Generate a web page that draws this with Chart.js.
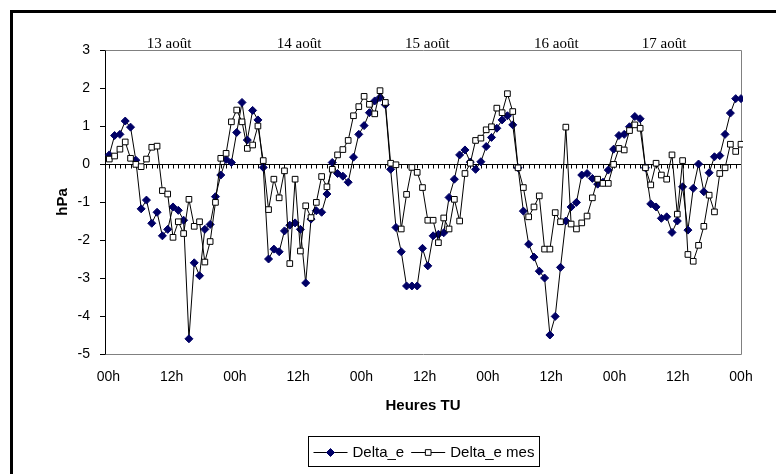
<!DOCTYPE html>
<html><head><meta charset="utf-8">
<script src="https://cdn.jsdelivr.net/npm/chart.js@4.4.1/dist/chart.umd.min.js"></script>
<style>html,body{margin:0;padding:0;background:#fff;overflow:hidden}canvas{display:block}</style>
</head><body>
<canvas id="c" width="776" height="474"></canvas>
<script>
// hourly observation index, 13 août 00h TU -> 18 août 00h TU
const hours = Array.from({length: 121}, (_, i) => i);

const deltaE = [
  0.24, 0.75, 0.78, 1.13, 0.97, 0.10, -1.18, -0.95, -1.56, -1.27,
  -1.89, -1.72, -1.13, -1.22, -1.48, -4.60, -2.60, -2.94, -1.72, -1.59,
  -0.86, -0.29, 0.12, 0.04, 0.83, 1.62, 0.63, 1.41, 1.16, -0.09,
  -2.50, -2.24, -2.31, -1.76, -1.61, -1.55, -1.72, -3.13, -1.45, -1.23,
  -1.27, -0.79, 0.04, -0.25, -0.32, -0.48, 0.18, 0.78, 1.01, 1.35,
  1.66, 1.75, 1.56, -0.14, -1.67, -2.31, -3.21, -3.21, -3.21, -2.22,
  -2.68, -1.89, -1.85, -1.81, -0.88, -0.40, 0.24, 0.37, 0.05, -0.14,
  0.06, 0.46, 0.70, 0.94, 1.16, 1.27, 1.03, -0.10, -1.24, -2.11,
  -2.45, -2.82, -3.00, -4.50, -4.01, -2.72, -1.50, -1.13, -1.01, -0.29,
  -0.25, -0.38, -0.53, -0.48, -0.16, 0.39, 0.75, 0.78, 0.98, 1.25,
  1.19, -0.10, -1.05, -1.13, -1.43, -1.39, -1.80, -1.50, -0.60, -1.74,
  -0.64, 0.00, -0.73, -0.23, 0.19, 0.22, 0.78, 1.34, 1.72, 1.72,
  0.72
];

const deltaEmes = [
  0.13, 0.21, 0.39, 0.58, 0.15, -0.01, -0.07, 0.13, 0.44, 0.47,
  -0.70, -0.79, -1.93, -1.52, -1.83, -0.93, -1.64, -1.52, -2.58, -2.04,
  -1.01, 0.15, 0.28, 1.11, 1.42, 1.11, 0.41, 0.50, 1.00, 0.09,
  -1.20, -0.40, -0.89, -0.18, -2.62, -0.40, -2.29, -1.10, -1.41, -1.01,
  -0.33, -0.60, -0.14, 0.24, 0.38, 0.62, 1.27, 1.51, 1.78, 1.57,
  1.32, 1.93, 1.62, 0.02, -0.02, -1.71, -0.80, -0.09, -0.22, -0.62,
  -1.48, -1.48, -2.07, -1.42, -1.71, -0.93, -1.50, -0.25, 0.02, 0.62,
  0.68, 0.90, 0.98, 1.47, 1.35, 1.85, 1.38, -0.10, -0.62, -1.39,
  -1.13, -0.84, -2.24, -2.24, -1.28, -1.52, 0.97, -1.58, -1.71, -1.55,
  -1.37, -0.89, -0.40, -0.51, -0.51, -0.01, 0.41, 0.37, 0.88, 1.03,
  0.94, -0.10, -0.55, 0.02, -0.29, -0.40, 0.24, -1.32, 0.09, -2.38,
  -2.56, -2.14, -1.64, -0.82, -1.26, -0.25, -0.10, 0.52, 0.33, 0.52,
  0.25
];

const seriesNames = ['Delta_e', 'Delta_e mes'];
const xTickHours = [0, 12, 24, 36, 48, 60, 72, 84, 96, 108, 120];
const xTickLabels = ['00h', '12h', '00h', '12h', '00h', '12h', '00h', '12h', '00h', '12h', '00h'];
const yTickLabels = ['-5', '-4', '-3', '-2', '-1', '0', '1', '2', '3'];
const dayLabels = ['13 août', '14 août', '15 août', '16 août', '17 août'];
const dayLabelHours = [11.25, 35.75, 59.9, 84.2, 104.5];

const SANS = "'Liberation Sans', Arial, sans-serif";
const SERIF = "'Liberation Serif', 'Times New Roman', serif";
Chart.defaults.font.family = SANS;
Chart.defaults.color = '#000';

function drawMarker(ctx, style, r, x, y) {
  ctx.beginPath();
  if (style === 'rectRot') {
    ctx.moveTo(x - r, y); ctx.lineTo(x, y - r); ctx.lineTo(x + r, y); ctx.lineTo(x, y + r);
  } else {
    const s = Math.SQRT1_2 * r;
    ctx.rect(x - s, y - s, 2 * s, 2 * s);
  }
  ctx.closePath();
  ctx.fill();
  ctx.stroke();
}

const decorPlugin = {
  id: 'decor',
  beforeDraw(chart) {
    const ctx = chart.ctx;
    ctx.save();
    ctx.fillStyle = '#fff';
    ctx.fillRect(0, 0, chart.width, chart.height);
    ctx.fillStyle = '#000';
    ctx.fillRect(10, 10, chart.width - 10, 3);
    ctx.fillRect(10, 10, 3, chart.height - 10);
    ctx.restore();
  },
  beforeDatasetsDraw(chart) {
    const {ctx, chartArea: a, scales} = chart;
    ctx.save();
    ctx.strokeStyle = '#808080';
    ctx.lineWidth = 1;
    ctx.beginPath();
    const L = Math.round(a.left) + 0.5, R = Math.round(a.right) + 0.5;
    const T = Math.round(a.top) + 0.5, B = Math.round(a.bottom) + 0.5;
    ctx.moveTo(L, T); ctx.lineTo(R, T); ctx.lineTo(R, B); ctx.lineTo(L, B);
    ctx.stroke();
    // minor tick marks on the zero line
    const y0 = Math.round(scales.y.getPixelForValue(0)) + 0.5;
    ctx.strokeStyle = '#000';
    ctx.beginPath();
    hours.forEach(h => {
      const px = Math.round(scales.x.getPixelForValue(h)) + 0.5;
      if (px > a.left + 2 && px <= a.right) { ctx.moveTo(px, y0); ctx.lineTo(px, y0 + 4); }
    });
    ctx.stroke();
    ctx.restore();
  },
  afterDraw(chart) {
    const {ctx, chartArea: a, scales} = chart;
    ctx.save();
    // day labels above the plot
    ctx.font = '15px ' + SERIF;
    ctx.fillStyle = '#000';
    ctx.textAlign = 'center';
    ctx.textBaseline = 'alphabetic';
    dayLabels.forEach((t, i) => {
      ctx.fillText(t, scales.x.getPixelForValue(dayLabelHours[i]), a.top - 2);
    });
    // legend box
    ctx.font = '15px ' + SANS;
    const lineLen = 34, gapTxt = 5, gapItem = 7, pad = 5;
    const widths = chart.data.datasets.map(d => lineLen + gapTxt + ctx.measureText(d.label).width);
    const total = widths.reduce((s, w) => s + w, 0) + gapItem * (widths.length - 1) + pad * 2;
    const cx = (a.left + a.right) / 2;
    const bx = Math.round(cx - total / 2) + 0.5, by = 436.5, bh = 30;
    ctx.strokeStyle = '#000';
    ctx.lineWidth = 1;
    ctx.strokeRect(bx, by, Math.round(total), bh);
    let x = bx + pad;
    const y = by + bh / 2;
    ctx.textAlign = 'left';
    ctx.textBaseline = 'middle';
    chart.data.datasets.forEach((d, i) => {
      ctx.strokeStyle = d.borderColor;
      ctx.lineWidth = 1;
      ctx.beginPath();
      ctx.moveTo(x, Math.round(y) + 0.5); ctx.lineTo(x + lineLen, Math.round(y) + 0.5);
      ctx.stroke();
      ctx.fillStyle = d.pointBackgroundColor;
      ctx.strokeStyle = d.pointBorderColor;
      drawMarker(ctx, d.pointStyle, d.pointRadius, x + lineLen / 2, Math.round(y) + 0.5);
      ctx.fillStyle = '#000';
      ctx.fillText(d.label, x + lineLen + gapTxt, y + 1);
      x += widths[i] + gapItem;
    });
    ctx.restore();
  }
};

const pts = arr => hours.map((h, i) => ({x: h, y: arr[i]}));

new Chart(document.getElementById('c'), {
  type: 'line',
  data: {
    datasets: [
      {
        label: seriesNames[0],
        data: pts(deltaE),
        borderColor: '#000',
        borderWidth: 1,
        pointStyle: 'rectRot',
        pointRadius: 4,
        pointBackgroundColor: '#000066',
        pointBorderColor: '#000066',
        pointBorderWidth: 1,
        tension: 0,
        order: 1,
        clip: {left: 5, top: 5, right: 2, bottom: 5}
      },
      {
        label: seriesNames[1],
        data: pts(deltaEmes),
        borderColor: '#000',
        borderWidth: 1,
        pointStyle: 'rect',
        pointRadius: 4,
        pointBackgroundColor: '#fff',
        pointBorderColor: '#000',
        pointBorderWidth: 1,
        tension: 0,
        order: 0,
        clip: {left: 5, top: 5, right: 2, bottom: 5}
      }
    ]
  },
  options: {
    responsive: false,
    animation: false,
    devicePixelRatio: 1,
    layout: {padding: {left: 0, right: 35, top: 50, bottom: 0}},
    plugins: {legend: {display: false}, tooltip: {enabled: false}},
    scales: {
      x: {
        type: 'linear', display: false, min: -0.81, max: 119
      },
      xl: {
        type: 'linear', position: 'bottom', min: -0.65, max: 120,
        afterBuildTicks: s => { s.ticks = xTickHours.map(v => ({value: v})); },
        afterFit: s => { s.height = 120; },
        grid: {display: false, drawTicks: false},
        border: {display: false},
        ticks: {
          autoSkip: false, maxRotation: 0, padding: 15,
          font: {size: 14},
          callback: (v, i) => xTickLabels[i]
        },
        title: {
          display: true, text: 'Heures TU',
          font: {size: 15, weight: 'bold'},
          padding: {top: 0, bottom: 59}
        }
      },
      y: {
        min: -5, max: 3,
        afterBuildTicks: s => { s.ticks = yTickLabels.map(t => ({value: Number(t)})); },
        afterFit: s => { s.width = 105; },
        grid: {
          drawOnChartArea: true, drawTicks: true, tickLength: 5,
          color: c => (c.tick && c.tick.value === 0) ? '#000' : 'rgba(0,0,0,0)',
          tickColor: '#000', lineWidth: 1
        },
        border: {display: true, color: '#000', width: 1},
        ticks: {
          padding: 10, font: {size: 14},
          callback: (v, i) => yTickLabels[i]
        },
        title: {
          display: true, text: 'hPa',
          font: {size: 15, weight: 'bold'},
          padding: {top: 54, bottom: 0}
        }
      }
    }
  },
  plugins: [decorPlugin]
});
</script>
</body></html>
